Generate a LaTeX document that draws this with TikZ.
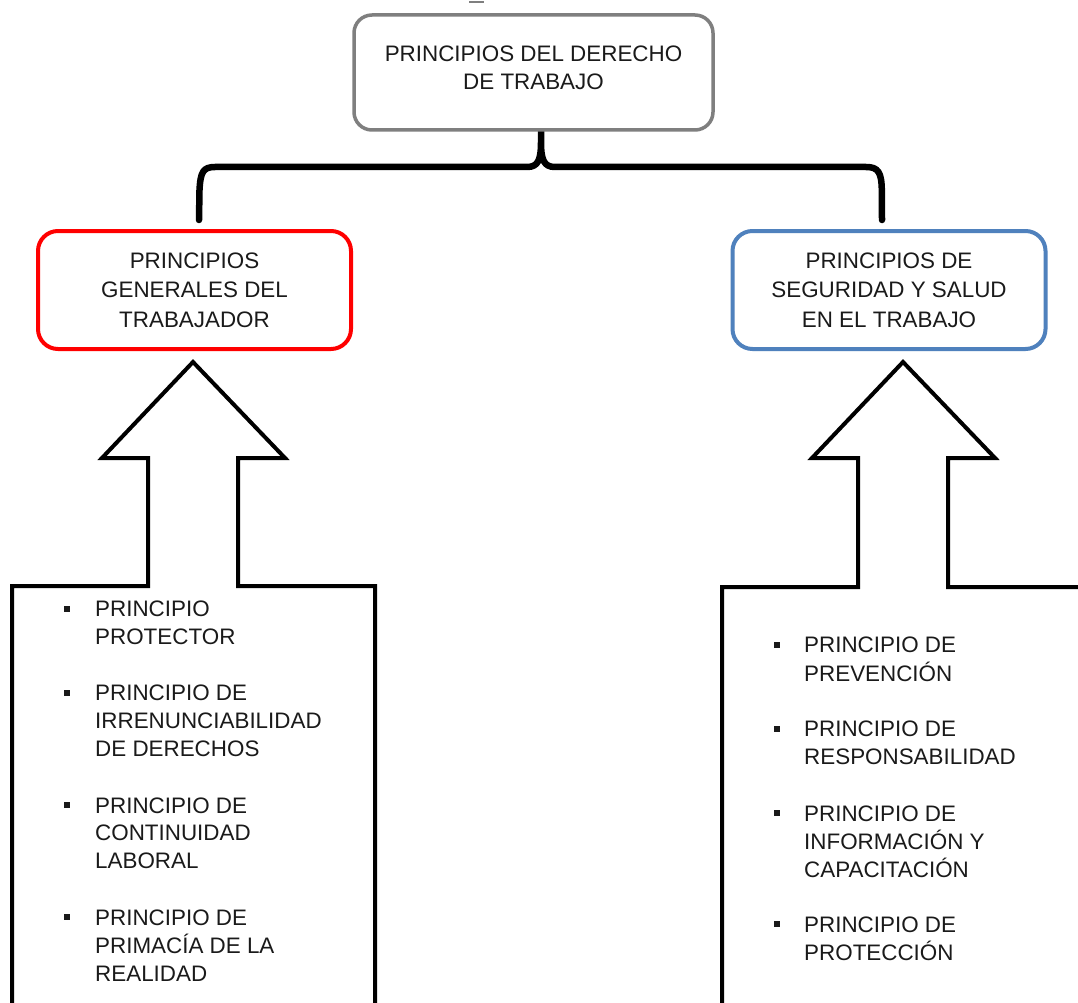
\documentclass[tikz,border=0pt]{standalone}
\usepackage{fontspec}
\setmainfont{Liberation Sans}
\definecolor{boxgray}{HTML}{7F7F7F}
\definecolor{boxred}{HTML}{FF0000}
\definecolor{boxblue}{HTML}{4F81BD}
\definecolor{txtcol}{HTML}{1A1A1A}
\tikzset{
  boxtext/.style={font=\fontsize{22.4}{28}\selectfont, text=txtcol, align=center, inner sep=0pt},
  topbox/.style={draw=boxgray, line width=3.5pt, rounded corners=18pt, minimum width=359pt, minimum height=115pt, inner sep=0pt},
  sidebox/.style={draw=#1, line width=4pt, rounded corners=20pt, minimum width=313pt, minimum height=118pt, inner sep=0pt,
    font=\fontsize{22.4}{29.5}\selectfont, text=txtcol, align=center},
  bracepath/.style={line width=6.5pt, line join=round, line cap=round},
  callout/.style={line width=4pt, line join=miter},
  bul/.style={rectangle, fill=txtcol, minimum size=6pt, inner sep=0pt},
  item/.style={font=\fontsize{22.4}{27.7}\selectfont, text=txtcol, align=left, inner sep=0pt, anchor=north west}
}
\begin{document}
\begin{tikzpicture}[x=1pt, y=-1pt]
\useasboundingbox (0,0) rectangle (1078,1003);
\clip (0,0) rectangle (1078,1003);
\fill[white] (0,0) rectangle (1078,1003);

% small mark at top
\draw[boxgray, line width=1.5pt] (469,2) -- (484,2);

% callout arrows with list boxes
\coordinate (ltip) at (193,362);
\coordinate (rtip) at (903,362);
\draw[callout] (12,1012) -- (12,586) -- (148,586) -- (148,458) -- (102,458) -- (ltip)
  -- (285,458) -- (238,458) -- (238,586) -- (375,586) -- (375,1012);
\draw[callout] (722,1012) -- (722,587) -- (858,587) -- (858,458) -- (812,458) -- (rtip)
  -- (995,458) -- (948,458) -- (948,587) -- (1086,587) -- (1086,1012);

% brace
\coordinate (bl) at (199,220);
\coordinate (bt) at (541,115);
\coordinate (br) at (882,220);
\draw[bracepath] (bl) -- (199.5,190) .. controls (200.5,172) and (203,167) .. (215,167)
  -- (527,167) .. controls (538,167) and (541,160) .. (541,142) -- (bt)
  -- (541,142) .. controls (541,160) and (544,167) .. (555,167)
  -- (866,167) .. controls (878,167) and (881.5,172) .. (881.8,190) -- (br);

% boxes
\node[topbox, fill=white, label={[name=toptext, boxtext, yshift=4.5pt]center:{PRINCIPIOS DEL DERECHO\\DE TRABAJO}}] (top) at (533.5,72.5) {};
\node[sidebox=boxred, fill=white] (left) at (194.5,290) {PRINCIPIOS\\GENERALES DEL\\TRABAJADOR};
\node[sidebox=boxblue, fill=white] (right) at (889,290) {PRINCIPIOS DE\\SEGURIDAD Y SALUD\\EN EL TRABAJO};

% left list
\node[bul] (lb1) at (67,609) {};
\node[item] (l1) at (95,597.4) {\strut PRINCIPIO\\PROTECTOR};
\node[bul] (lb2) at (67,693) {};
\node[item] (l2) at (95,681.4) {\strut PRINCIPIO DE\\IRRENUNCIABILIDAD\\DE DERECHOS};
\node[bul] (lb3) at (67,805) {};
\node[item] (l3) at (95,793.4) {\strut PRINCIPIO DE\\CONTINUIDAD\\LABORAL};
\node[bul] (lb4) at (67,917) {};
\node[item] (l4) at (95,905.4) {\strut PRINCIPIO DE\\PRIMACÍA DE LA\\REALIDAD};

% right list
\node[bul] (rb1) at (777,645) {};
\node[item] (r1) at (804,633.4) {\strut PRINCIPIO DE\\PREVENCIÓN};
\node[bul] (rb2) at (777,729) {};
\node[item] (r2) at (804,717.4) {\strut PRINCIPIO DE\\RESPONSABILIDAD};
\node[bul] (rb3) at (777,813) {};
\node[item] (r3) at (804,801.4) {\strut PRINCIPIO DE\\INFORMACIÓN Y\\CAPACITACIÓN};
\node[bul] (rb4) at (777,924) {};
\node[item] (r4) at (804,912.4) {\strut PRINCIPIO DE\\PROTECCIÓN};
\end{tikzpicture}
\end{document}
